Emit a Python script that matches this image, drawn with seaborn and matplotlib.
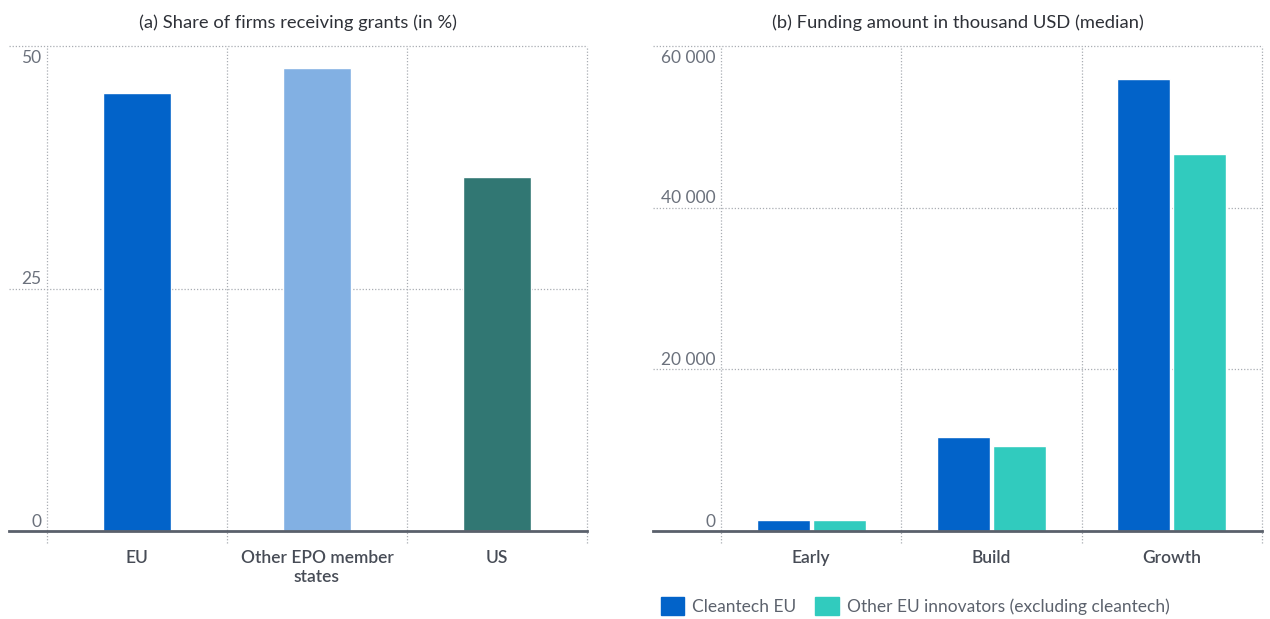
import numpy as np
import pandas as pd
import matplotlib
matplotlib.use("Agg")
import matplotlib.pyplot as plt
import seaborn as sns

# Data
regions = ["EU", "Other EPO member\nstates", "US"]
grant_share = [45.2, 47.7, 36.5]
grant_ticks = [0, 25, 50]

stages = ["Early", "Build", "Growth"]
groups = ["Cleantech EU", "Other EU innovators (excluding cleantech)"]
cleantech_eu = [1360, 11600, 55900]
other_eu = [1360, 10500, 46700]
funding_ticks = [0, 20000, 40000, 60000]

# Colours
colors_a = ["#0263c9", "#82b0e3", "#317773"]
colors_b = ["#0263c9", "#31cbbe"]
grid_col = "#a9adb3"
tick_col = "#6b717c"
label_col = "#474c56"

sns.set_theme(style="white")
plt.rcParams["font.family"] = ["Lato", "DejaVu Sans"]

fig = plt.figure(figsize=(12.7, 6.19), dpi=100)
ax1 = fig.add_axes([9 / 1270, 1 - 531 / 619, (587 - 9) / 1270, (531 - 46) / 619])
ax2 = fig.add_axes([653 / 1270, 1 - 531 / 619, (1262 - 653) / 1270, (531 - 46) / 619])


def style_axis(ax, ticks, labels, left_lim, title):
    """ Common look: dotted grid, y labels inside the plot, dark baseline """
    n = len(labels)
    ax.set_xlim(left_lim, n - 0.5)
    ax.set_ylim(ticks[0], ticks[-1])
    ax.set_xticks(range(n))
    ax.set_xticklabels(labels, fontsize=12.5, color=label_col, fontweight="semibold",
                       linespacing=1.2)
    ax.set_yticks([])
    ax.tick_params(axis="x", length=0, pad=14)
    ax.set_xlabel("")
    ax.set_ylabel("")

    for s in ["top", "left", "right"]:
        ax.spines[s].set_visible(False)
    ax.spines["bottom"].set_color("#5a606b")
    ax.spines["bottom"].set_linewidth(2)
    ax.spines["bottom"].set_zorder(5)

    # horizontal dotted gridlines
    for t in ticks[1:]:
        ax.axhline(t, color=grid_col, lw=0.9, ls=(0, (1, 1.5)), zorder=0, clip_on=False)
    # vertical dotted lines between categories, running a bit below the baseline
    for b in np.arange(-0.5, n, 1.0):
        ax.axvline(b, ymin=-0.025, ymax=1, color=grid_col, lw=0.9, ls=(0, (1, 1.5)),
                   zorder=0, clip_on=False)

    # y tick labels sit inside the axes, left of the first category line
    for t in ticks:
        txt = "{:,}".format(t).replace(",", " ")
        if t == ticks[-1]:
            ax.annotate(txt, (-0.5, t), xytext=(-4, -3), textcoords="offset points",
                        ha="right", va="top", fontsize=12.5, color=tick_col)
        else:
            ax.annotate(txt, (-0.5, t), xytext=(-4, 1), textcoords="offset points",
                        ha="right", va="bottom", fontsize=12.5, color=tick_col)

    ax.set_title(title, fontsize=13.2, color="#2e3138", pad=13)


# (a) share of firms receiving grants
sns.barplot(x=regions, y=grant_share, hue=regions, palette=colors_a, width=0.38,
            saturation=1, legend=False, ax=ax1, zorder=3)
style_axis(ax1, grant_ticks, regions, -0.711,
           "(a) Share of firms receiving grants (in %)")

# (b) funding amount
df = pd.DataFrame({
    "stage": stages * 2,
    "group": [groups[0]] * len(stages) + [groups[1]] * len(stages),
    "value": cleantech_eu + other_eu,
})
sns.barplot(data=df, x="stage", y="value", hue="group", hue_order=groups,
            palette=colors_b, width=0.62, gap=0.05, saturation=1, ax=ax2, zorder=3)
ax2.get_legend().remove()
style_axis(ax2, funding_ticks, stages, -0.877,
           "(b) Funding amount in thousand USD (median)")

handles = [plt.Rectangle((0, 0), 1, 1, color=c) for c in colors_b]
leg = fig.legend(handles, groups, loc="center left",
                 bbox_to_anchor=(661 / 1270, 1 - 606 / 619), ncol=2, frameon=False,
                 fontsize=12.5, handlelength=1.35, handleheight=1.25,
                 handletextpad=0.45, columnspacing=1.1, borderpad=0, borderaxespad=0)
for t in leg.get_texts():
    t.set_color("#5c626d")

fig.savefig("out.png", dpi=100)
